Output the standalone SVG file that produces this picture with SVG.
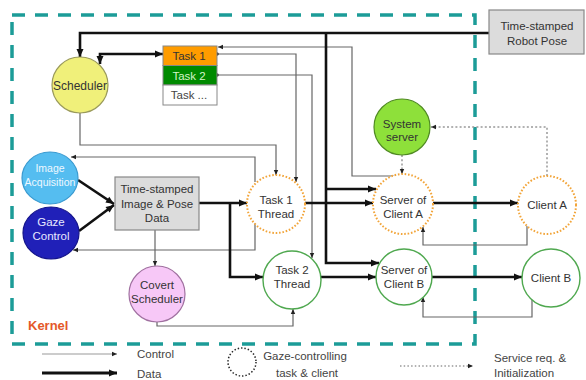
<svg xmlns="http://www.w3.org/2000/svg" width="586" height="380" viewBox="0 0 586 380">
<defs>
<marker id="ah" markerUnits="userSpaceOnUse" markerWidth="10" markerHeight="10" refX="9" refY="5" orient="auto"><path d="M1,1.5 L9,5 L1,8.5 Z" fill="#111"/></marker>
<marker id="ah2" markerUnits="userSpaceOnUse" markerWidth="10" markerHeight="10" refX="9" refY="5" orient="auto-start-reverse"><path d="M1,1.5 L9,5 L1,8.5 Z" fill="#111"/></marker>
<marker id="as" markerUnits="userSpaceOnUse" markerWidth="6" markerHeight="6" refX="5.5" refY="3" orient="auto"><path d="M0.5,0.8 L5.5,3 L0.5,5.2 Z" fill="#222"/></marker>
<marker id="dot" markerUnits="userSpaceOnUse" markerWidth="5" markerHeight="5" refX="2.5" refY="2.5"><circle cx="2.5" cy="2.5" r="1.7" fill="#222"/></marker>
</defs>
<style>
text{font-family:"Liberation Sans",Arial,Helvetica,sans-serif;font-size:11.5px;fill:#333;text-anchor:middle}
.ctl{fill:none;stroke:#666;stroke-width:1.2;marker-end:url(#as)}
.dat{fill:none;stroke:#111;stroke-width:2.6;marker-end:url(#ah)}
.svc{fill:none;stroke:#999;stroke-width:1.5;stroke-dasharray:2 2.2;marker-end:url(#as)}
.gz{fill:#fff;stroke:#f2a53a;stroke-width:2;stroke-dasharray:1.6 1.8}
.gr{fill:#fff;stroke:#4fa84f;stroke-width:1.4}
.lg{fill:#444;text-anchor:start}
</style>
<rect width="586" height="380" fill="#fff"/>
<g id="kernel">
<path d="M12 15 L475 15 L475 344 L12 344 Z" fill="none" stroke="#1c9c98" stroke-width="3.5" stroke-dasharray="13 10"/>
<text x="28" y="330" style="font-size:13px;font-weight:bold;fill:#e4582a;text-anchor:start">Kernel</text>
</g>
<g id="connectors">
<path class="ctl" d="M80 113 L80 145 L276 145 L276 175"/>
<path class="ctl" d="M217 54 L296 54 L296 182" marker-start="url(#dot)"/>
<path class="ctl" d="M217 75 L312 75 L312 258" marker-start="url(#dot)"/>
<path class="ctl" d="M401 176 L352 176 L352 47 L218 47"/>
<path class="ctl" d="M255 182 L255 157 L71 157"/>
<path class="ctl" d="M255 221 L255 250 L73 250"/>
<path class="ctl" d="M155 230 L155 266"/>
<path class="ctl" d="M157 322 L157 326 L293 326 L293 309"/>
<path class="ctl" d="M527 226 L527 245 L423 245 L423 227"/>
<path class="ctl" d="M532 299 L532 317 L423 317 L423 297"/>
<path class="dat" d="M489 33 L80 33 L80 57"/>
<path class="dat" d="M326 33 L326 263 L379 263"/>
<path class="dat" d="M326 189 L376 189"/>
<path fill="none" stroke="#111" stroke-width="2.6" marker-start="url(#ah2)" marker-end="url(#ah)" d="M100 64 L100 54 L163 54"/>
<path class="dat" d="M78 180 L114 204"/>
<path class="dat" d="M79 231 L114 205"/>
<path class="dat" d="M199 203 L247 203"/>
<path class="dat" d="M230 203 L230 277 L263 277"/>
<path class="dat" d="M305 203 L373 203"/>
<path class="dat" d="M433 203 L518 203"/>
<path class="dat" d="M321 277 L376 277"/>
<path class="dat" d="M432 277 L522 277"/>
<path class="svc" d="M547 176 L547 127 L431 127"/>
<path class="svc" d="M402 155 L402 174"/>
</g>
<g id="robot-pose">
<rect x="489" y="10" width="95" height="44" fill="#dcdcdc" stroke="#888" stroke-width="1.2"/>
<text x="537" y="30">Time-stamped</text>
<text x="537" y="45">Robot Pose</text>
</g>
<g id="scheduler">
<circle cx="80" cy="85" r="28" fill="#f0f07a" stroke="#9a9a5a" stroke-width="1.2"/>
<text x="80" y="90" style="font-size:12px">Scheduler</text>
</g>
<g id="task1">
<rect x="163" y="46" width="54" height="19.5" fill="#ff9c00" stroke="#888" stroke-width="1"/>
<text x="189" y="60">Task 1</text>
</g>
<g id="task2">
<rect x="163" y="65.5" width="54" height="19.5" fill="#008a00" stroke="#888" stroke-width="1"/>
<text x="189" y="80" style="fill:#d4f5c8">Task 2</text>
</g>
<g id="task-more">
<rect x="163" y="85" width="54" height="20" fill="#fff" stroke="#888" stroke-width="1"/>
<text x="189" y="99" style="fill:#444">Task ...</text>
</g>
<g id="image-acquisition">
<ellipse cx="50" cy="178" rx="28" ry="26" fill="#55bdf0" stroke="#3a9ad0" stroke-width="1.2"/>
<text x="50" y="172" style="fill:#eef8ff;font-size:10.5px">Image</text>
<text x="50" y="186" style="fill:#eef8ff;font-size:10.5px">Acquisition</text>
</g>
<g id="gaze-control">
<ellipse cx="51" cy="233" rx="28" ry="26" fill="#2020b8" stroke="#14148a" stroke-width="1.2"/>
<text x="51" y="226" style="fill:#e8e8ff">Gaze</text>
<text x="51" y="240" style="fill:#e8e8ff">Control</text>
</g>
<g id="image-pose-data">
<rect x="115" y="177" width="84" height="53" fill="#dcdcdc" stroke="#888" stroke-width="1.2"/>
<text x="157" y="193">Time-stamped</text>
<text x="157" y="207.5">Image &amp; Pose</text>
<text x="157" y="222">Data</text>
</g>
<g id="covert-scheduler">
<circle cx="157" cy="294" r="28" fill="#f7c8f7" stroke="#a070a0" stroke-width="1.2"/>
<text x="157" y="289">Covert</text>
<text x="157" y="303">Scheduler</text>
</g>
<g id="task1-thread">
<circle cx="276" cy="204" r="29" class="gz"/>
<text x="276" y="204">Task 1</text>
<text x="276" y="218">Thread</text>
</g>
<g id="task2-thread">
<circle cx="292" cy="280" r="29" class="gr"/>
<text x="292" y="274">Task 2</text>
<text x="292" y="288">Thread</text>
</g>
<g id="system-server">
<circle cx="402" cy="127" r="28" fill="#8ee03a" stroke="#4f8a22" stroke-width="1.2"/>
<text x="402" y="128">System</text>
<text x="402" y="141">server</text>
</g>
<g id="server-client-a">
<circle cx="403" cy="204" r="30" class="gz"/>
<text x="403" y="204">Server of</text>
<text x="403" y="218">Client A</text>
</g>
<g id="client-a">
<circle cx="547" cy="205" r="29" class="gz"/>
<text x="547" y="209">Client A</text>
</g>
<g id="server-client-b">
<circle cx="404" cy="277" r="28" class="gr"/>
<text x="404" y="274">Server of</text>
<text x="404" y="288">Client B</text>
</g>
<g id="client-b">
<circle cx="551" cy="278" r="29" class="gr"/>
<text x="551" y="282">Client B</text>
</g>
<g id="legend">
<path d="M42 354 L117 354" fill="none" stroke="#999" stroke-width="1.2" marker-end="url(#as)"/>
<text x="137" y="358" class="lg">Control</text>
<path d="M42 373 L117 373" fill="none" stroke="#111" stroke-width="3" marker-end="url(#ah)"/>
<text x="137" y="378" class="lg">Data</text>
<circle cx="242" cy="362" r="14" fill="none" stroke="#222" stroke-width="1.5" stroke-dasharray="1.4 2"/>
<text x="305" y="360" style="fill:#444">Gaze-controlling</text>
<text x="307" y="377" style="fill:#444">task &amp; client</text>
<path d="M400 366 L473 366" fill="none" stroke="#999" stroke-width="1.3" stroke-dasharray="1.5 2.2" marker-end="url(#as)"/>
<text x="494" y="362" class="lg">Service req. &amp;</text>
<text x="494" y="377" class="lg">Initialization</text>
</g>
</svg>
